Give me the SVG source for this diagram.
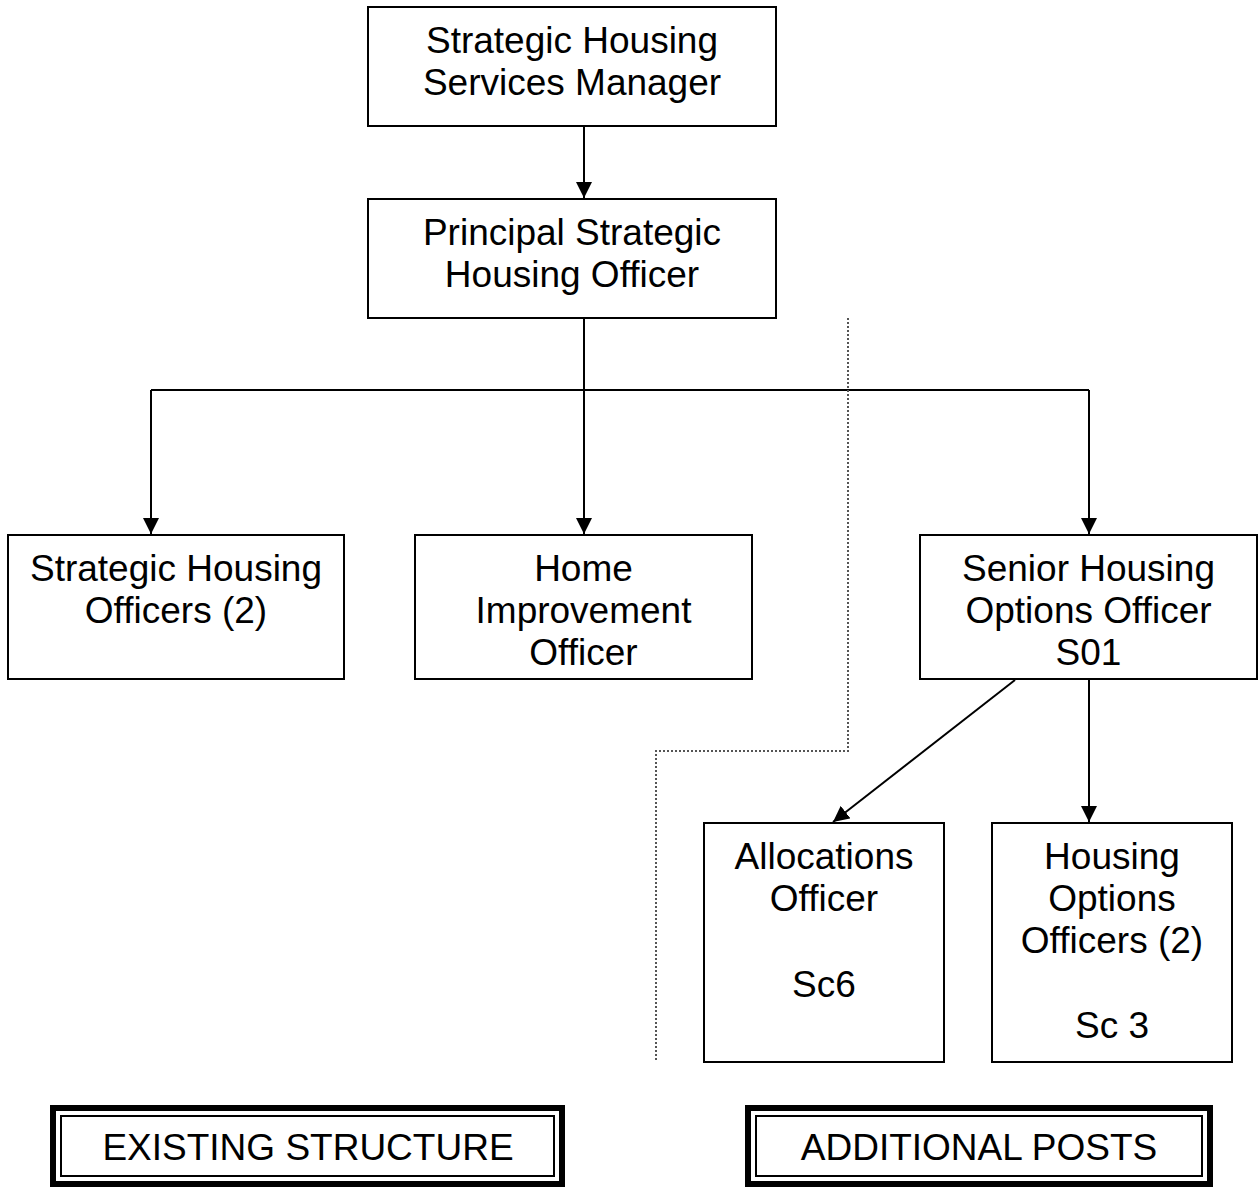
<svg xmlns="http://www.w3.org/2000/svg" width="1258" height="1187" viewBox="0 0 1258 1187">
<style>
.box{fill:#fff;stroke:#000;stroke-width:2}
.t{font-family:"Liberation Sans",Arial,sans-serif;font-size:37px;fill:#000;text-anchor:middle}
.c{stroke:#000;stroke-width:2;fill:none}
.dot{stroke:#555;stroke-width:2;fill:none;stroke-dasharray:2 2}
.thick{fill:#fff;stroke:#000;stroke-width:6}
.thin{fill:none;stroke:#000;stroke-width:2}
</style>
<defs>
<marker id="ah" viewBox="0 0 10 10" refX="10" refY="5" markerWidth="16" markerHeight="16" markerUnits="userSpaceOnUse" orient="auto">
<path d="M0,0 L10,5 L0,10 z" fill="#000"/>
</marker>
</defs>
<rect width="1258" height="1187" fill="#fff"/>
<g id="connectors">
<line class="c" x1="584" y1="127" x2="584" y2="198" marker-end="url(#ah)"/>
<line class="c" x1="584" y1="319" x2="584" y2="390"/>
<line class="c" x1="151" y1="390" x2="1089" y2="390"/>
<line class="c" x1="151" y1="390" x2="151" y2="534" marker-end="url(#ah)"/>
<line class="c" x1="584" y1="390" x2="584" y2="534" marker-end="url(#ah)"/>
<line class="c" x1="1089" y1="390" x2="1089" y2="534" marker-end="url(#ah)"/>
<line class="c" x1="1015" y1="680" x2="833" y2="822" marker-end="url(#ah)"/>
<line class="c" x1="1089" y1="680" x2="1089" y2="822" marker-end="url(#ah)"/>
</g>
<g id="divider">
<polyline class="dot" points="848,318 848,751 656,751 656,1060"/>
</g>
<g id="n1">
<rect class="box" x="368" y="7" width="408" height="119"/>
<text class="t" x="572" y="53">Strategic Housing</text>
<text class="t" x="572" y="95">Services Manager</text>
</g>
<g id="n2">
<rect class="box" x="368" y="199" width="408" height="119"/>
<text class="t" x="572" y="245">Principal Strategic</text>
<text class="t" x="572" y="287">Housing Officer</text>
</g>
<g id="n3">
<rect class="box" x="8" y="535" width="336" height="144"/>
<text class="t" x="176" y="581">Strategic Housing</text>
<text class="t" x="176" y="623">Officers (2)</text>
</g>
<g id="n4">
<rect class="box" x="415" y="535" width="337" height="144"/>
<text class="t" x="583.5" y="581">Home</text>
<text class="t" x="583.5" y="623">Improvement</text>
<text class="t" x="583.5" y="665">Officer</text>
</g>
<g id="n5">
<rect class="box" x="920" y="535" width="337" height="144"/>
<text class="t" x="1088.5" y="581">Senior Housing</text>
<text class="t" x="1088.5" y="623">Options Officer</text>
<text class="t" x="1088.5" y="665">S01</text>
</g>
<g id="n6">
<rect class="box" x="704" y="823" width="240" height="239"/>
<text class="t" x="824" y="869">Allocations</text>
<text class="t" x="824" y="911">Officer</text>
<text class="t" x="824" y="997">Sc6</text>
</g>
<g id="n7">
<rect class="box" x="992" y="823" width="240" height="239"/>
<text class="t" x="1112" y="869">Housing</text>
<text class="t" x="1112" y="911">Options</text>
<text class="t" x="1112" y="953">Officers (2)</text>
<text class="t" x="1112" y="1038">Sc 3</text>
</g>
<g id="legend-existing">
<rect class="thick" x="53" y="1108" width="509" height="76"/>
<rect class="thin" x="61" y="1116" width="493" height="60"/>
<text class="t" x="308" y="1160">EXISTING STRUCTURE</text>
</g>
<g id="legend-additional">
<rect class="thick" x="748" y="1108" width="462" height="76"/>
<rect class="thin" x="756" y="1116" width="446" height="60"/>
<text class="t" x="979" y="1160">ADDITIONAL POSTS</text>
</g>
</svg>
